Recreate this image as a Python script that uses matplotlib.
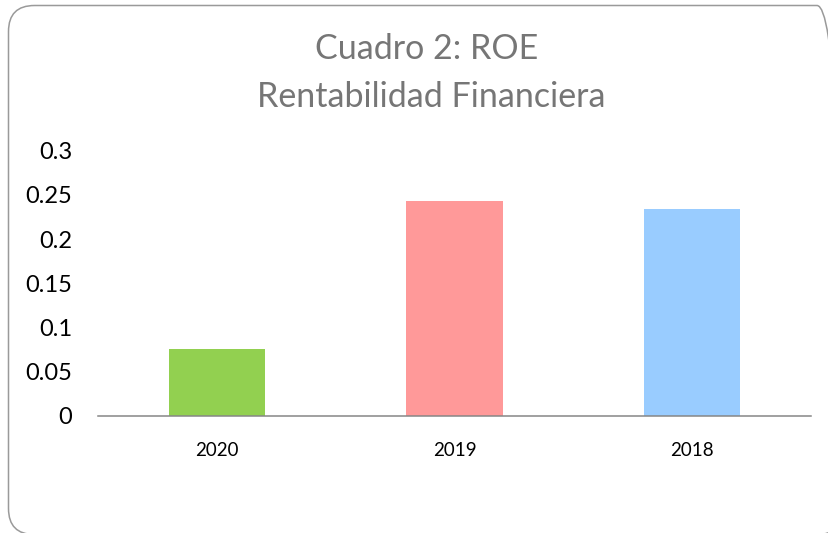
import matplotlib
matplotlib.use("Agg")
import matplotlib.pyplot as plt
from matplotlib.patches import FancyBboxPatch

categories = ["2020", "2019", "2018"]
roe = [0.0757, 0.243, 0.234]
colors = ["#92D050", "#FF9999", "#99CCFF"]
yticks = [0, 0.05, 0.1, 0.15, 0.2, 0.25, 0.3]
ytick_labels = ["0", "0.05", "0.1", "0.15", "0.2", "0.25", "0.3"]
title_lines = ["Cuadro 2: ROE", "Rentabilidad Financiera"]

W, H = 829, 533
fig = plt.figure(figsize=(W / 100, H / 100), dpi=100)
fig.patch.set_facecolor("white")

# rounded chart border (in inches)
box = FancyBboxPatch((8.5 / 100, -1.5 / 100), (843 - 8.5) / 100, (534.5 - 5.5) / 100,
                     boxstyle="round,pad=0,rounding_size=0.26",
                     transform=fig.dpi_scale_trans, facecolor="none",
                     edgecolor="#9a9a9a", linewidth=1.1, zorder=-5)
fig.patches.append(box)

ax = fig.add_axes([98 / W, (H - 416) / H, (811 - 98) / W, (416 - 150.5) / H])
ax.set_zorder(2)
ax.set_facecolor("none")
x = range(len(categories))
ax.bar(x, roe, width=0.404, color=colors, zorder=2)
ax.set_xlim(-0.5, 2.5)
ax.set_ylim(0, 0.3)
ax.set_yticks(yticks)
ax.set_yticklabels(ytick_labels)
ax.set_xticks(list(x))
ax.set_xticklabels(categories)
for s in ["top", "right", "left"]:
    ax.spines[s].set_visible(False)
ax.spines["bottom"].set_color("#868686")
ax.spines["bottom"].set_linewidth(1.1)
ax.tick_params(axis="y", length=0, pad=18.5, labelsize=17, labelcolor="black")
ax.tick_params(axis="x", length=0, pad=19, labelsize=13.5, labelcolor="black")
for lab in ax.get_xticklabels() + ax.get_yticklabels():
    lab.set_family("Lato")

tcol = "#767676"
fig.text(427 / W, (H - 59) / H, title_lines[0], ha="center", va="baseline",
         fontsize=24.5, color=tcol, family="Lato")
fig.text(431 / W, (H - 107) / H, title_lines[1], ha="center", va="baseline",
         fontsize=24.5, color=tcol, family="Lato")

fig.savefig("out.png", dpi=100)
